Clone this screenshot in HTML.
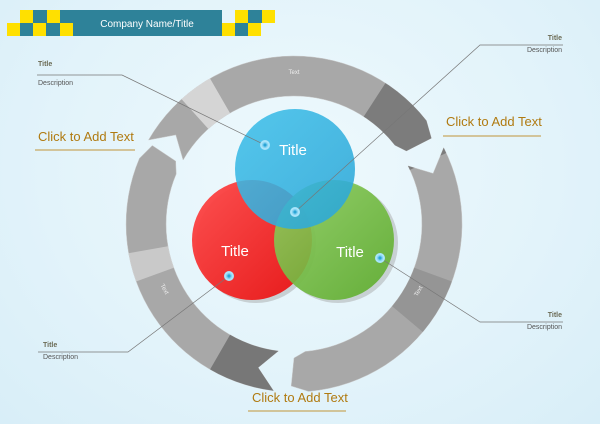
<!DOCTYPE html>
<html><head><meta charset="utf-8"><style>
html,body{margin:0;padding:0}
body{width:600px;height:424px;overflow:hidden;position:relative;background:radial-gradient(ellipse at 50% 40%,#eef9fd 0%,#e2f3fa 60%,#d8eef8 100%);font-family:"Liberation Sans",sans-serif}
.t{position:absolute;font-size:7px;color:#555;white-space:nowrap}
.tb{font-weight:bold;color:#6b6b55}
.c{position:absolute;font-size:13px;color:#b07a10;white-space:nowrap}
</style></head><body>
<svg width="600" height="424" style="position:absolute;left:0;top:0" xmlns="http://www.w3.org/2000/svg">
<defs>
<linearGradient id="gb" x1="0" y1="0" x2="1" y2="1"><stop offset="0" stop-color="#3fc0ea"/><stop offset="1" stop-color="#2aa5d6"/></linearGradient>
<linearGradient id="gr" x1="0" y1="0" x2="1" y2="1"><stop offset="0" stop-color="#ff4a4a"/><stop offset="1" stop-color="#e81010"/></linearGradient>
<linearGradient id="gg" x1="0" y1="0" x2="1" y2="1"><stop offset="0" stop-color="#8fd060"/><stop offset="1" stop-color="#5aaa28"/></linearGradient>
</defs>
<rect x="60" y="10" width="162" height="26" fill="#2e8299"/>
<g fill="#ffe000">
<rect x="20" y="10" width="13" height="13"/><rect x="47" y="10" width="13" height="13"/>
<rect x="7" y="23" width="13" height="13"/><rect x="33" y="23" width="13" height="13"/><rect x="60" y="23" width="13" height="13"/>
<rect x="235" y="10" width="13" height="13"/><rect x="262" y="10" width="13" height="13"/>
<rect x="222" y="23" width="13" height="13"/><rect x="248" y="23" width="13" height="13"/>
</g>
<g fill="#2e8299">
<rect x="33" y="10" width="14" height="13"/><rect x="20" y="23" width="13" height="13"/><rect x="46" y="23" width="14" height="13"/>
<rect x="248" y="10" width="14" height="13"/><rect x="235" y="23" width="13" height="13"/>
</g>
<text x="147" y="27" font-size="10" fill="#fff" text-anchor="middle" font-family="Liberation Sans, sans-serif">Company Name/Title</text>
<g id="ring"></g>
<text x="294" y="74" font-size="6" fill="#eee" text-anchor="middle" font-family="Liberation Sans">Text</text>
<text x="163" y="290" font-size="6" fill="#eee" text-anchor="middle" transform="rotate(60 163 290)" font-family="Liberation Sans">Text</text>
<text x="420" y="292" font-size="6" fill="#eee" text-anchor="middle" transform="rotate(-60 420 292)" font-family="Liberation Sans">Text</text>
<circle cx="256" cy="243" r="60" fill="#999" opacity=".4"/>
<circle cx="338" cy="243" r="60" fill="#999" opacity=".4"/>
<circle cx="252" cy="240" r="60" fill="url(#gr)" opacity=".95"/>
<circle cx="334" cy="240" r="60" fill="url(#gg)" opacity=".9"/>
<circle cx="295" cy="169" r="60" fill="url(#gb)" opacity=".88"/>
<text x="293" y="155" font-size="15" fill="#fff" text-anchor="middle" font-family="Liberation Sans">Title</text>
<text x="235" y="256" font-size="15" fill="#fff" text-anchor="middle" font-family="Liberation Sans">Title</text>
<text x="350" y="257" font-size="15" fill="#fff" text-anchor="middle" font-family="Liberation Sans">Title</text>
<g stroke="#777" stroke-width=".7" fill="none">
<polyline points="37,75 122,75 265,145"/>
<polyline points="563,45 480,45 295,212"/>
<polyline points="563,322 480,322 380,258"/>
<polyline points="38,352 128,352 229,276"/>
</g>
<g stroke="#c8a860" stroke-width="1.2">
<line x1="35" y1="150" x2="135" y2="150"/><line x1="443" y1="136" x2="541" y2="136"/><line x1="248" y1="411" x2="346" y2="411"/>
</g>
<g fill="#7fd0f0" stroke="#a8e4fa" stroke-width="2">
<circle cx="265" cy="145" r="4"/><circle cx="295" cy="212" r="4"/><circle cx="229" cy="276" r="4"/><circle cx="380" cy="258" r="4"/>
</g>
<g fill="#2aa5d6"><circle cx="265" cy="145" r="1.6"/><circle cx="295" cy="212" r="1.6"/><circle cx="229" cy="276" r="1.6"/><circle cx="380" cy="258" r="1.6"/></g>
</svg>
<div class="t tb" style="left:38px;top:61px">Title</div>
<div class="t" style="left:38px;top:80px">Description</div>
<div class="t tb" style="right:38px;top:35px">Title</div>
<div class="t" style="right:38px;top:47px">Description</div>
<div class="t tb" style="right:38px;top:312px">Title</div>
<div class="t" style="right:38px;top:324px">Description</div>
<div class="t tb" style="left:43px;top:342px">Title</div>
<div class="t" style="left:43px;top:354px">Description</div>
<div class="c" style="left:38px;top:129px">Click to Add Text</div>
<div class="c" style="left:446px;top:114px">Click to Add Text</div>
<div class="c" style="left:252px;top:390px">Click to Add Text</div>
<script>
(function(){
var cx=294,cy=224,Ro=168,Ri=128,Rm=148,d=Math.PI/180;
function p(a,r){return (cx+r*Math.cos(a*d)).toFixed(1)+","+(cy+r*Math.sin(a*d)).toFixed(1);}
function seg(a0,a1){
 return "M"+p(a0,Ro)+" L"+p(a0+7,Rm)+" L"+p(a0,Ri)+
 " A"+Ri+","+Ri+" 0 0 1 "+p(a1,Ri)+" L"+p(a1+5,Ri+6)+" L"+p(a1+6,Ro-6)+" L"+p(a1,Ro)+
 " A"+Ro+","+Ro+" 0 0 0 "+p(a0,Ro)+" Z";}
function band(a0,a1,col,op){
 return '<path d="M'+p(a0,Ri-10)+' A'+(Ri-10)+','+(Ri-10)+' 0 0 1 '+p(a1,Ri-10)+' L'+p(a1,Ro+10)+' A'+(Ro+10)+','+(Ro+10)+' 0 0 0 '+p(a0,Ro+10)+' Z" fill="'+col+'" opacity="'+op+'"/>';}
var h='';
var S=[[210,322],[333,445],[97,203]];
S.forEach(function(s){h+='<path d="'+seg(s[0],s[1])+'" fill="#a8a8a8" stroke="#c8c8c8" stroke-width=".5"/>';});
h+='<clipPath id="cp">';S.forEach(function(s){h+='<path d="'+seg(s[0],s[1])+'"/>';});h+='</clipPath>';
h+='<g clip-path="url(#cp)">'+band(303,335,'#707070',.8)+band(20,40,'#888',.6)+band(95,120,'#6a6a6a',.8)+band(228,240,'#e8e8e8',.7)+band(160,170,'#e0e0e0',.6)+'</g>';
document.getElementById('ring').innerHTML=h;
})();
</script>
</body></html>
